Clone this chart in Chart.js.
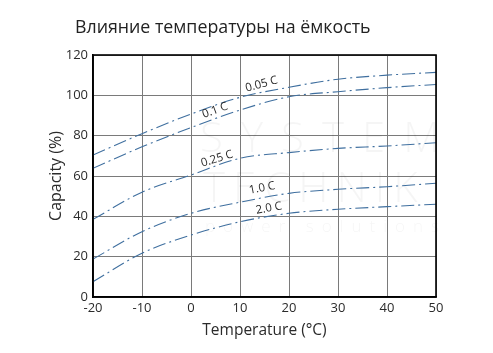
<!DOCTYPE html>
<html>
<head>
<meta charset="utf-8">
<script src="https://cdn.jsdelivr.net/npm/chart.js@4"></script>
<style>
  html, body { margin: 0; padding: 0; background: #fff; }
  #wrap { width: 493px; height: 353px; position: relative; }
</style>
</head>
<body>
<div id="wrap"><canvas id="chart1"></canvas></div>
<script>
// Данные графика
const temperatures = [-20, -10, 0, 10, 20, 30, 40, 50];
const rate005 = [70.4, 81, 90.7, 99, 104, 108, 110, 111.4];
const rate01 = [63.8, 74.5, 84, 92.7, 99.3, 101.8, 103.8, 105.4];
const rate025 = [38.5, 52, 60.5, 68.8, 71.6, 73.7, 74.9, 76.5];
const rate10 = [18.8, 32.4, 41.5, 47, 51.4, 53.4, 54.7, 56.4];
const rate20 = [7.6, 21.7, 30.7, 37.3, 41.5, 43.5, 44.8, 46];
const seriesNames = ['0.05 C', '0.1 C', '0.25 C', '1.0 C', '2.0 C'];
const xTicks = [-20, -10, 0, 10, 20, 30, 40, 50];
const yTicks = [0, 20, 40, 60, 80, 100, 120];

const FONT = "'Open Sans', 'DejaVu Sans', sans-serif";
const lineColor = '#3f6f9f';
const textColor = '#2b2b2b';

// Подписи кривых (в координатах данных)
const curveLabels = [
    { text: '0.05 C', x: 14.4, y: 105.5, angle: -15 },
    { text: '0.1 C', x: 4.9, y: 92.5, angle: -20 },
    { text: '0.25 C', x: 5.3, y: 68.5, angle: -17 },
    { text: '1.0 C', x: 14.5, y: 54, angle: -11 },
    { text: '2.0 C', x: 15.9, y: 44, angle: -10 }
];

const extras = {
    id: 'extras',
    beforeDatasetsDraw(chart) {
        const ctx = chart.ctx;
        // водяной знак
        ctx.save();
        ctx.fillStyle = 'rgba(0,0,0,0.04)';
        ctx.textBaseline = 'middle';
        ctx.textAlign = 'left';
        ctx.font = '300 42px ' + FONT;
        const wm = [['SYSTEM', 200, 140, 18], ['TECHNIK', 203, 190, 8]];
        wm.forEach(w => {
            let x = w[1];
            for (const ch of w[0]) {
                ctx.fillText(ch, x, w[2]);
                x += ctx.measureText(ch).width + w[3];
            }
        });
        ctx.font = '300 17px ' + FONT;
        let x = 205;
        for (const ch of 'power solutions') {
            ctx.fillText(ch, x, 227);
            x += ctx.measureText(ch).width + 8;
        }
        ctx.restore();
    },
    afterDatasetsDraw(chart) {
        const ctx = chart.ctx;
        const a = chart.chartArea;
        const xs = chart.scales.x, ys = chart.scales.y;
        ctx.save();
        ctx.strokeStyle = '#000';
        ctx.lineWidth = 1.6;
        ctx.strokeRect(a.left, a.top, a.right - a.left, a.bottom - a.top);
        ctx.fillStyle = textColor;
        ctx.font = '11.5px ' + FONT;
        ctx.textAlign = 'center';
        ctx.textBaseline = 'middle';
        curveLabels.forEach(l => {
            ctx.save();
            ctx.translate(xs.getPixelForValue(l.x), ys.getPixelForValue(l.y));
            ctx.rotate(l.angle * Math.PI / 180);
            ctx.fillText(l.text, 0, 0);
            ctx.restore();
        });
        // заголовок
        ctx.font = '17.8px ' + FONT;
        ctx.textAlign = 'left';
        ctx.fillStyle = '#222';
        ctx.fillText('Влияние температуры на ёмкость', 75, 28);
        ctx.restore();
    }
};

function makeSet(label, values) {
    return {
        label: label,
        data: temperatures.map((t, i) => ({ x: t, y: values[i] })),
        borderColor: lineColor,
        borderWidth: 1.1,
        borderDash: [13, 4, 2, 4],
        pointRadius: 0,
        fill: false,
        cubicInterpolationMode: 'monotone'
    };
}

new Chart(document.getElementById('chart1'), {
    type: 'line',
    data: {
        datasets: [
            makeSet(seriesNames[0], rate005),
            makeSet(seriesNames[1], rate01),
            makeSet(seriesNames[2], rate025),
            makeSet(seriesNames[3], rate10),
            makeSet(seriesNames[4], rate20)
        ]
    },
    options: {
        responsive: true,
        maintainAspectRatio: false,
        animation: false,
        layout: { padding: { top: 55, right: 57, left: 0, bottom: 0 } },
        plugins: {
            legend: { display: false },
            title: { display: false },
            tooltip: { enabled: false }
        },
        scales: {
            x: {
                type: 'linear',
                min: -20,
                max: 50,
                afterBuildTicks: s => { s.ticks = xTicks.map(v => ({ value: v })); },
                afterFit: s => { s.height = 56; },
                grid: { color: '#7a7a7a', lineWidth: 1, drawTicks: false },
                border: { color: '#000', width: 1.6 },
                ticks: { color: textColor, font: { family: FONT, size: 13 }, padding: 3, maxRotation: 0 },
                title: {
                    display: true,
                    text: 'Temperature (°C)',
                    color: textColor,
                    font: { family: FONT, size: 15.5 },
                    padding: { top: 0, bottom: 13 }
                }
            },
            y: {
                min: 0,
                max: 120,
                afterBuildTicks: s => { s.ticks = yTicks.map(v => ({ value: v })); },
                afterFit: s => { s.width = 93; },
                grid: { color: '#7a7a7a', lineWidth: 1, drawTicks: false },
                border: { color: '#000', width: 1.6 },
                ticks: { color: textColor, font: { family: FONT, size: 13 }, padding: 5 },
                title: {
                    display: true,
                    text: 'Capacity (%)',
                    color: textColor,
                    font: { family: FONT, size: 16 },
                    padding: { top: 47, bottom: 0 }
                }
            }
        }
    },
    plugins: [extras]
});
</script>
</body>
</html>
